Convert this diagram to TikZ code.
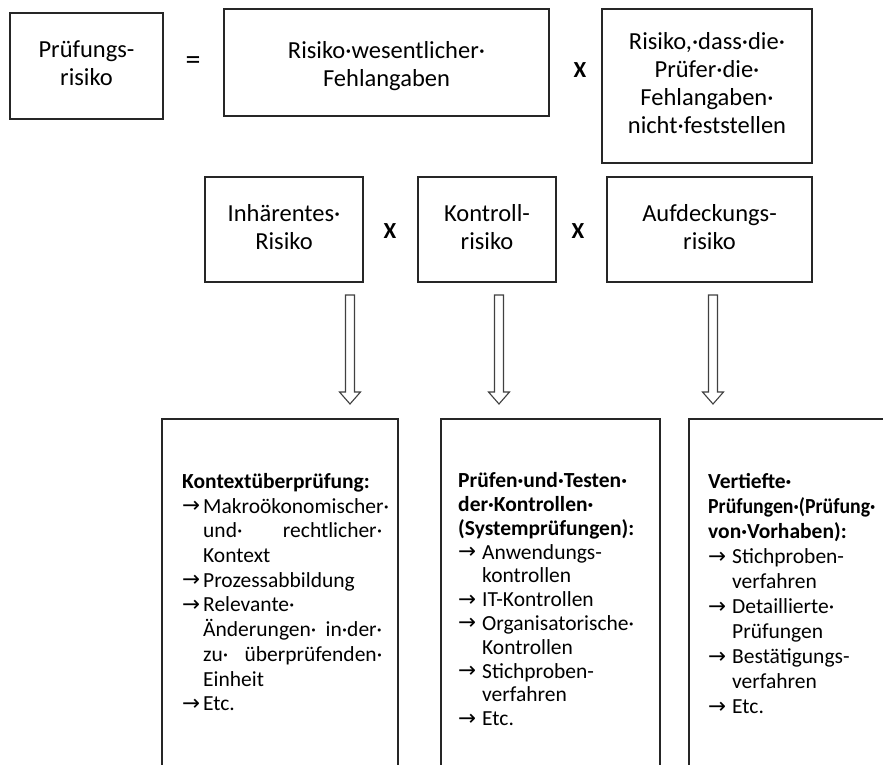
\documentclass[tikz,border=0pt]{standalone}
\usepackage{fontspec}
\usepackage{graphicx}
\setmainfont{Carlito}
\newfontfamily\symfont{DejaVu Sans}
\usetikzlibrary{calc}
\newcommand\arbul{\makebox[21pt][l]{\symfont\raisebox{0.5pt}{→}}}
\newcommand\arbulb{\makebox[24pt][l]{\symfont\raisebox{0.5pt}{→}}}
\newcommand\indA{\hspace*{21pt}}
\newcommand\indB{\hspace*{24pt}}
\begin{document}
\begin{tikzpicture}[x=1pt,y=-1pt,
  box/.style={draw=black!85, line width=1.5pt, inner sep=0pt, align=center,
    font=\fontsize{24.5}{28}\selectfont},
  boxtext/.style={inner sep=0pt, align=center, font=\fontsize{24.5}{28}\selectfont},
  opsign/.style={inner sep=0pt, font=\fontsize{23}{26}\selectfont\bfseries},
  openbox/.style={draw=black!85, line width=1.5pt, inner sep=0pt},
  listtext/.style={inner sep=0pt, anchor=north west, align=left},
  hollow/.style={draw=black!75, line width=1.1pt, fill=white, line join=miter}
]
\useasboundingbox (0,0) rectangle (883,765);

% top row
\node[box, minimum width=153pt, minimum height=106pt] (pr) at (86.5,66) {\strut Prüfungs-\\risiko\strut};
\node[opsign, font=\fontsize{30}{30}\selectfont] (eq) at (193,63) {=};
\node[box, minimum width=325pt, minimum height=107pt] (rw) at (386.5,62.5) {};
\node[boxtext] (rwt) at (386.5,66.5) {\strut Risiko·wesentlicher·\\Fehlangaben\strut};
\node[opsign] (x1) at (580,70) {X};
\node[box, minimum width=210pt, minimum height=154pt] (rd) at (707,86) {\strut Risiko,·dass·die·\\Prüfer·die·\\Fehlangaben·\\nicht·feststellen\strut};

% middle row
\node[box, minimum width=158pt, minimum height=105pt] (inh) at (284,229.5) {\strut Inhärentes·\\Risiko\strut};
\node[opsign] (x2) at (390,231) {X};
\node[box, minimum width=138pt, minimum height=105pt] (kon) at (487,229.5) {\strut Kontroll-\\risiko\strut};
\node[opsign] (x3) at (578,231) {X};
\node[box, minimum width=205pt, minimum height=105pt] (auf) at (709.5,229.5) {\strut Aufdeckungs-\\risiko\strut};

% hollow arrows
\foreach \n/\xx in {1/350,2/499,3/713}{
  \coordinate (ar\n) at (\xx,295);
  \draw[hollow] (ar\n) ++(-4.5,0) -- ++(0,97) -- ++(-6,0) -- ++(10.5,12) -- ++(10.5,-12) -- ++(-6,0) -- ++(0,-97) -- cycle;
}

% bottom boxes (open at the bottom of the picture)
\node[openbox, minimum width=236pt, minimum height=381pt] (b1) at (280,609.5) {};
\node[openbox, minimum width=219pt, minimum height=381pt] (b2) at (550.5,609.5) {};
\node[openbox, minimum width=231pt, minimum height=381pt] (b3) at (804.5,609.5) {};

\node[listtext, font=\fontsize{21.5}{24.7}\selectfont] (t1) at (182,471) {%
\strut\textbf{Kontextüberprüfung:}\\
\arbul Makroökonomischer·\\
\indA\hbox to 179pt{und·\hfill rechtlicher·}\\
\indA Kontext\\
\arbul Prozessabbildung\\
\arbul Relevante·\\
\indA\hbox to 179pt{Änderungen·\hfill in·der·}\\
\indA\hbox to 179pt{zu·\hfill überprüfenden·}\\
\indA Einheit\\
\arbul Etc.};

\node[listtext, font=\fontsize{21.5}{23.8}\selectfont] (t2) at (458,470.8) {%
\strut\textbf{Prüfen·und·Testen·}\\
\textbf{der·Kontrollen·}\\
\textbf{(Systemprüfungen):}\\
\arbulb Anwendungs-\\
\indB kontrollen\\
\arbulb IT-Kontrollen\\
\arbulb Organisatorische·\\
\indB Kontrollen\\
\arbulb Stichproben-\\
\indB verfahren\\
\arbulb Etc.};

\node[listtext, font=\fontsize{21.5}{25}\selectfont] (t3) at (708,471) {%
\strut\textbf{Vertiefte·}\\
\scalebox{0.92}[1]{\textbf{Prüfungen·(Prüfung·}}\\
\textbf{von·Vorhaben):}\\
\arbulb Stichproben-\\
\indB verfahren\\
\arbulb Detaillierte·\\
\indB Prüfungen\\
\arbulb Bestätigungs-\\
\indB verfahren\\
\arbulb Etc.};
\end{tikzpicture}
\end{document}
